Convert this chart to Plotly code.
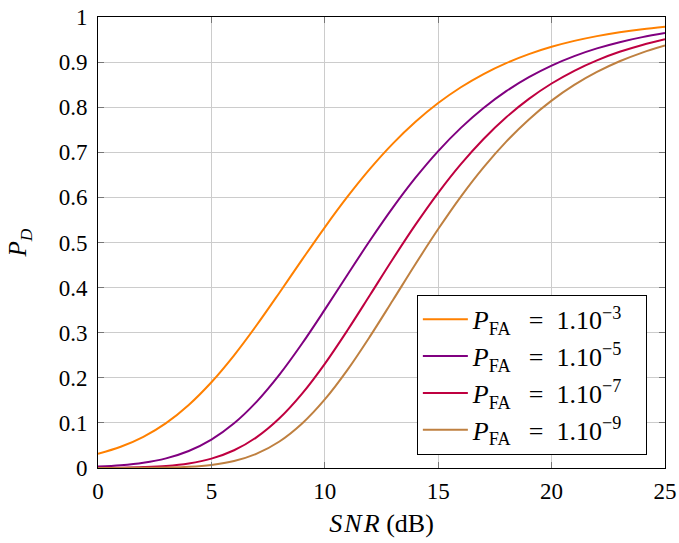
import plotly.graph_objects as go

snr_db = list(range(0, 26))

pd_1e3 = [0.0316, 0.0470, 0.0691, 0.0996, 0.1399, 0.1902, 0.2499, 0.3170, 0.3887, 0.4619,
          0.5337, 0.6015, 0.6637, 0.7192, 0.7676, 0.8092, 0.8443, 0.8736, 0.8978, 0.9177,
          0.9339, 0.9470, 0.9576, 0.9661, 0.9730, 0.9785]
pd_1e5 = [0.0032, 0.0061, 0.0116, 0.0214, 0.0377, 0.0629, 0.0991, 0.1473, 0.2070, 0.2760,
          0.3511, 0.4286, 0.5049, 0.5772, 0.6436, 0.7027, 0.7542, 0.7983, 0.8356, 0.8666,
          0.8923, 0.9133, 0.9304, 0.9442, 0.9554, 0.9644]
pd_1e7 = [0.0003, 0.0008, 0.0020, 0.0046, 0.0102, 0.0208, 0.0393, 0.0685, 0.1102, 0.1649,
          0.2310, 0.3054, 0.3842, 0.4634, 0.5395, 0.6101, 0.6737, 0.7296, 0.7777, 0.8184,
          0.8525, 0.8807, 0.9039, 0.9228, 0.9381, 0.9505]
pd_1e9 = [0.00003, 0.0001, 0.0003, 0.0010, 0.0027, 0.0069, 0.0156, 0.0318, 0.0587, 0.0986,
          0.1520, 0.2176, 0.2923, 0.3719, 0.4523, 0.5298, 0.6019, 0.6667, 0.7237, 0.7729,
          0.8145, 0.8493, 0.8781, 0.9018, 0.9211, 0.9368]

sep = "\u2002\u2009=\u2002"
tail = "\u2002\u2009"
series = [
    ("<i>P</i><sub>FA</sub>" + sep + "1.10<sup>−3</sup>" + tail, pd_1e3, "rgb(255,128,0)"),
    ("<i>P</i><sub>FA</sub>" + sep + "1.10<sup>−5</sup>" + tail, pd_1e5, "rgb(128,0,128)"),
    ("<i>P</i><sub>FA</sub>" + sep + "1.10<sup>−7</sup>" + tail, pd_1e7, "rgb(191,0,64)"),
    ("<i>P</i><sub>FA</sub>" + sep + "1.10<sup>−9</sup>" + tail, pd_1e9, "rgb(191,128,64)"),
]

x_ticks = [0, 5, 10, 15, 20, 25]
y_ticks = [0, 0.1, 0.2, 0.3, 0.4, 0.5, 0.6, 0.7, 0.8, 0.9, 1]
y_labels = ["0", "0.1", "0.2", "0.3", "0.4", "0.5", "0.6", "0.7", "0.8", "0.9", "1"]

fig = go.Figure()
for name, vals, col in series:
    fig.add_trace(go.Scatter(x=snr_db, y=vals, mode="lines", name=name,
                             line=dict(color=col, width=2, shape="spline", smoothing=1.0)))

font_family = "'Liberation Serif', 'DejaVu Serif', serif"
fig.update_layout(
    width=679, height=543,
    margin=dict(l=98, r=14, t=17, b=75),
    paper_bgcolor="white", plot_bgcolor="white",
    font=dict(family=font_family, size=21, color="black"),
    showlegend=True,
    legend=dict(x=0.968, y=0.029, xanchor="right", yanchor="bottom",
                bgcolor="white", bordercolor="black", borderwidth=1,
                font=dict(family=font_family, size=26), tracegroupgap=0, itemwidth=45),
    xaxis=dict(range=[0, 25], tickvals=x_ticks, ticks="inside", ticklen=6,
               tickcolor="#777777", showgrid=True, gridcolor="#cccccc", gridwidth=1,
               showline=True, linecolor="black", linewidth=1, mirror="ticks",
               zeroline=False, automargin=False, ticklabelstandoff=2,
               tickfont=dict(family=font_family, size=23),
               title=dict(text="<i>S\u200aN\u200aR</i> (dB)", font=dict(family=font_family, size=26), standoff=11)),
    yaxis=dict(range=[0, 1], tickvals=y_ticks, ticktext=y_labels, ticks="inside", ticklen=6,
               tickcolor="#777777", showgrid=True, gridcolor="#cccccc", gridwidth=1,
               showline=True, linecolor="black", linewidth=1, mirror="ticks",
               zeroline=False, automargin=False, ticklabelstandoff=5,
               tickfont=dict(family=font_family, size=23),
               title=dict(text="<i>P<sub>D</sub></i>", font=dict(family=font_family, size=25), standoff=24)),
)

fig.write_html("out.html", config={"displayModeBar": False},
               post_script="document.body.style.margin='0';")
